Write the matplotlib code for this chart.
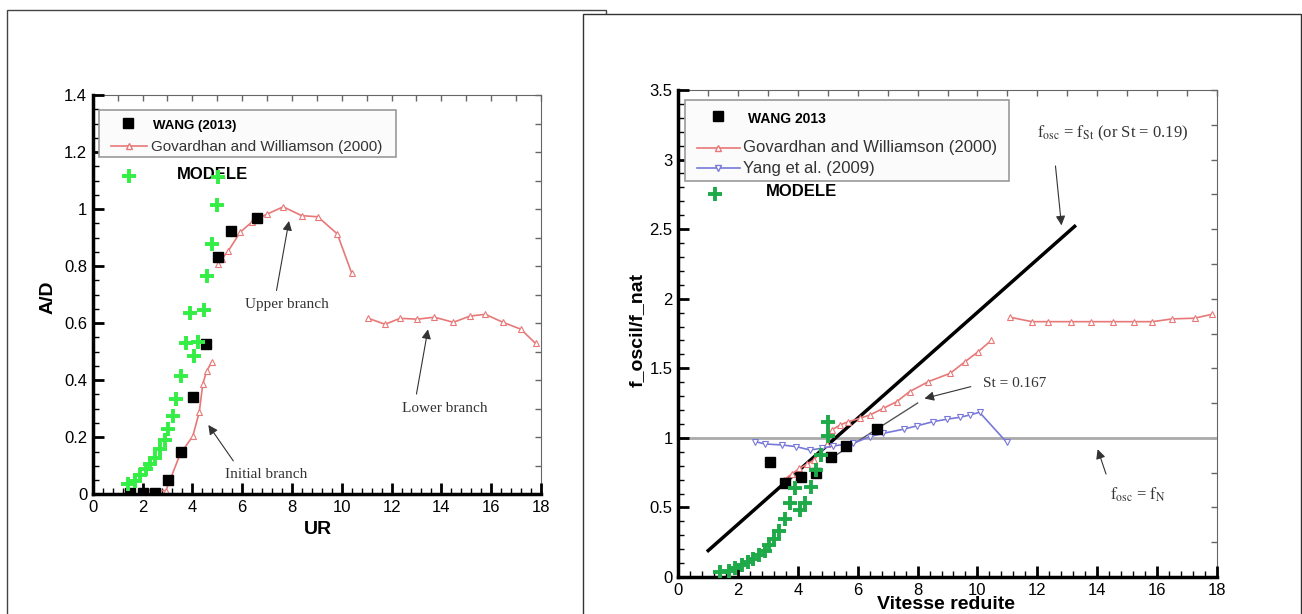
import matplotlib
matplotlib.use('Agg')
import matplotlib.pyplot as plt
from matplotlib.patches import Rectangle
from matplotlib.ticker import MultipleLocator, FuncFormatter, NullFormatter

plt.rcParams['font.family'] = ['Liberation Sans', 'DejaVu Sans']
plt.rcParams['mathtext.fontset'] = 'stix'

# ---- left panel : amplitude A/D vs UR ----
wang_ur = [1.5, 2.03, 2.5, 3.04, 3.55, 4.04, 4.54, 5.04, 5.55, 6.59]
wang_ad = [0.005, 0.005, 0.005, 0.050, 0.149, 0.342, 0.526, 0.833, 0.924, 0.968]

gw_init_ur = [2.30, 2.94, 3.51, 4.02, 4.28, 4.42, 4.58, 4.78]
gw_init_ad = [0.013, 0.013, 0.141, 0.204, 0.289, 0.387, 0.433, 0.464]
gw_upper_ur = [5.04, 5.18, 5.45, 5.92, 6.41, 6.99, 7.65, 8.39, 9.04, 9.82, 10.40]
gw_upper_ad = [0.806, 0.825, 0.854, 0.919, 0.956, 0.982, 1.008, 0.977, 0.973, 0.913, 0.775]
gw_lower_ur = [11.07, 11.74, 12.34, 13.04, 13.72, 14.48, 15.15, 15.77, 16.47, 17.19, 17.78]
gw_lower_ad = [0.617, 0.596, 0.617, 0.614, 0.621, 0.603, 0.625, 0.631, 0.603, 0.579, 0.529]

# MODELE (same values appear in both panels)
model_ur = [1.40, 1.68, 1.91, 2.12, 2.32, 2.51, 2.70, 2.89, 3.04, 3.21, 3.35,
            3.56, 3.73, 3.90, 4.08, 4.24, 4.45, 4.60, 4.78, 5.00, 5.02]
model_val = [0.035, 0.046, 0.067, 0.088, 0.106, 0.127, 0.160, 0.189, 0.230, 0.276, 0.334,
             0.414, 0.530, 0.637, 0.484, 0.535, 0.645, 0.767, 0.876, 1.015, 1.113]

# ---- right panel : frequency ratio vs reduced velocity ----
wang_u = [3.07, 3.57, 4.09, 4.60, 5.11, 5.61, 6.64]
wang_f = [0.829, 0.674, 0.717, 0.745, 0.865, 0.942, 1.062]

gw_a_u = [3.54, 3.79, 4.05, 4.29, 4.52, 4.74, 4.96, 5.13, 5.41, 5.69, 6.08, 6.41,
          6.86, 7.30, 7.73, 8.36, 9.09, 9.59, 10.03, 10.46]
gw_a_f = [0.70, 0.74, 0.78, 0.81, 0.84, 0.89, 0.956, 1.057, 1.093, 1.117, 1.141, 1.165,
          1.213, 1.26, 1.332, 1.404, 1.464, 1.548, 1.62, 1.70]
gw_b_u = [11.09, 11.82, 12.37, 13.13, 13.80, 14.53, 15.22, 15.85, 16.52, 17.26, 17.84]
gw_b_f = [1.867, 1.835, 1.835, 1.835, 1.835, 1.835, 1.835, 1.835, 1.855, 1.86, 1.888]

yang_u = [2.57, 2.90, 3.46, 3.94, 4.40, 4.80, 5.18, 5.85, 6.41, 6.86, 7.53, 7.97,
          8.53, 8.98, 9.42, 9.76, 10.07, 10.98]
yang_f = [0.973, 0.956, 0.949, 0.937, 0.913, 0.925, 0.942, 0.961, 1.009, 1.033, 1.062, 1.086,
          1.117, 1.134, 1.148, 1.165, 1.184, 0.968]

st019_u = [1.0, 13.25]
st019_f = [0.19, 2.52]
st0167_u = [5.3, 8.0]
st0167_f = [0.88, 1.25]

RED = '#e87878'
BLUE = '#7878d8'
GREEN_L = '#33ee44'
GREEN_R = '#1eaa48'

fig = plt.figure(figsize=(13.02, 6.14), dpi=100)

# the two pasted panel frames
fig.add_artist(Rectangle((7 / 1302, -0.05), 599 / 1302, 1.0337, transform=fig.transFigure,
                         fc='white', ec='#444', lw=1, zorder=-3))
fig.add_artist(Rectangle((583 / 1302, -0.05), 718 / 1302, 1.0272, transform=fig.transFigure,
                         fc='white', ec='#333', lw=1, zorder=-2))

fmt = FuncFormatter(lambda v, p: f'{v:g}')


def style(ax, xminor, yminor, top_step, right_step):
    for s in ['top', 'right']:
        ax.spines[s].set_visible(False)
    for s in ['left', 'bottom']:
        ax.spines[s].set_linewidth(2.5)
    ax.xaxis.set_minor_locator(MultipleLocator(xminor))
    ax.yaxis.set_minor_locator(MultipleLocator(yminor))
    ax.xaxis.set_major_formatter(fmt)
    ax.yaxis.set_major_formatter(fmt)
    ax.tick_params(which='both', direction='in', top=False, right=False)
    ax.tick_params(which='major', length=8, width=2, labelsize=12, pad=4)
    ax.tick_params(which='minor', length=4, width=1)
    sx = ax.secondary_xaxis('top')
    sx.xaxis.set_major_locator(MultipleLocator(top_step))
    sx.xaxis.set_major_formatter(NullFormatter())
    sx.tick_params(direction='in', length=4, width=1, color='#666')
    sx.spines['top'].set_color('#666')
    sy = ax.secondary_yaxis('right')
    sy.yaxis.set_major_locator(MultipleLocator(right_step))
    sy.yaxis.set_major_formatter(NullFormatter())
    sy.tick_params(direction='in', length=4, width=1, color='#666')
    sy.spines['right'].set_color('#666')


def arrow(ax, tail, tip):
    ax.annotate('', xy=tip, xytext=tail,
                arrowprops=dict(arrowstyle='-|>', color='#333', lw=0.8, mutation_scale=14))


serif = dict(family='Liberation Serif', color='#333', ha='center', va='center')

# ================= left panel =================
ax1 = fig.add_axes([0.07120, 0.19495, 0.34432, 0.65033])
ax1.set_xlim(0, 18)
ax1.set_ylim(0, 1.4)
ax1.xaxis.set_major_locator(MultipleLocator(2))
ax1.yaxis.set_major_locator(MultipleLocator(0.2))
style(ax1, 0.4, 0.05, 1, 0.1)

tri = dict(marker='^', mfc='white', mec=RED, ms=5, mew=0.8, color=RED, lw=1.2)
ax1.plot(gw_init_ur, gw_init_ad, **tri)
ax1.plot(gw_upper_ur, gw_upper_ad, **tri)
ax1.plot(gw_lower_ur, gw_lower_ad, **tri)
ax1.plot(wang_ur, wang_ad, 's', color='black', ms=7, zorder=3)
ax1.plot(model_ur, model_val, '+', color=GREEN_L, ms=10, mew=2.8, zorder=4)

ax1.set_xlabel('UR', fontsize=14, fontweight='bold', va='center')
ax1.set_ylabel('A/D', fontsize=14, fontweight='bold', va='center')
ax1.xaxis.set_label_coords(0.5026, -0.0869)
ax1.yaxis.set_label_coords(-0.0997, 0.494)

ax1.text(7.79, 0.664, 'Upper branch', fontsize=11, **serif)
arrow(ax1, (7.36, 0.705), (7.90, 0.968))
ax1.text(6.96, 0.068, 'Initial branch', fontsize=11, **serif)
arrow(ax1, (5.71, 0.109), (4.58, 0.251))
ax1.text(14.15, 0.302, 'Lower branch', fontsize=11, **serif)
arrow(ax1, (12.98, 0.342), (13.48, 0.588))

# legend
T1 = ax1.transAxes
ax1.add_patch(Rectangle((0.0147, 0.8455), 0.6613, 0.1169, transform=T1,
                        fc='#fbfbfb', ec='#999', lw=1.2, zorder=5))
ax1.plot([0.0794], [0.929], 's', color='black', ms=7, transform=T1, zorder=6)
ax1.text(0.135, 0.9216, 'WANG (2013)', transform=T1, fontsize=9.5, fontweight='bold',
         va='center', zorder=6)
ax1.plot([0.041, 0.1205], [0.873, 0.873], color=RED, lw=1.2, transform=T1, zorder=6)
ax1.plot([0.081], [0.873], '^', mfc='white', mec=RED, ms=5, transform=T1, zorder=6)
ax1.text(0.129, 0.8705, 'Govardhan and Williamson (2000)', transform=T1, fontsize=11,
         color='#333', va='center', zorder=6)
ax1.plot([0.081], [0.798], '+', color=GREEN_L, ms=10, mew=2.8, transform=T1, zorder=6)
ax1.text(0.187, 0.801, 'MODELE', transform=T1, fontsize=12, fontweight='bold', va='center')

# ================= right panel =================
ax2 = fig.add_axes([0.52097, 0.06026, 0.41352, 0.79316])
ax2.set_xlim(0, 18)
ax2.set_ylim(0, 3.5)
ax2.xaxis.set_major_locator(MultipleLocator(2))
ax2.yaxis.set_major_locator(MultipleLocator(0.5))
style(ax2, 0.4, 0.1, 1, 0.25)

ax2.axhline(1.0, color='#aaaaaa', lw=2, zorder=1)
ax2.plot(st019_u, st019_f, color='black', lw=2.5, zorder=2)
ax2.plot(st0167_u, st0167_f, color='#555', lw=1, zorder=2)
ax2.plot(gw_a_u, gw_a_f, **tri)
ax2.plot(gw_b_u, gw_b_f, **tri)
ax2.plot(yang_u, yang_f, marker='v', mfc='white', mec=BLUE, ms=5, mew=0.8, color=BLUE, lw=1.2)
ax2.plot(wang_u, wang_f, 's', color='black', ms=7, zorder=3)
ax2.plot(model_ur, model_val, '+', color=GREEN_R, ms=10, mew=2.8, zorder=4)

ax2.set_xlabel('Vitesse reduite', fontsize=14, fontweight='bold', va='bottom')
ax2.set_ylabel('f_oscil/f_nat', fontsize=14, fontweight='bold', va='center')
ax2.xaxis.set_label_coords(0.497, -0.0735)
ax2.yaxis.set_label_coords(-0.0767, 0.507)

ax2.text(14.51, 3.19, r'$\mathrm{f_{osc}}$ = $\mathrm{f_{St}}$ (or St = 0.19)', fontsize=12, **serif)
arrow(ax2, (12.6, 2.974), (12.82, 2.507))
ax2.text(11.23, 1.393, 'St = 0.167', fontsize=11, **serif)
arrow(ax2, (9.87, 1.373), (8.14, 1.278))
ax2.text(15.37, 0.59, r'$\mathrm{f_{osc}}$ = $\mathrm{f_N}$', fontsize=12, **serif)
arrow(ax2, (14.33, 0.721), (13.99, 0.937))

# legend
T2 = ax2.transAxes
ax2.add_patch(Rectangle((0.0124, 0.8138), 0.6024, 0.1657, transform=T2,
                        fc='#fbfbfb', ec='#999', lw=1.2, zorder=5))
ax2.plot([0.0743], [0.9472], 's', color='black', ms=7, transform=T2, zorder=6)
ax2.text(0.130, 0.9398, 'WANG 2013', transform=T2, fontsize=10, fontweight='bold',
         va='center', zorder=6)
ax2.plot([0.0342, 0.1146], [0.8815, 0.8815], color=RED, lw=1.2, transform=T2, zorder=6)
ax2.plot([0.0744], [0.8815], '^', mfc='white', mec=RED, ms=5, transform=T2, zorder=6)
ax2.text(0.1207, 0.8815, 'Govardhan and Williamson (2000)', transform=T2, fontsize=12,
         color='#333', va='center', zorder=6)
ax2.plot([0.0342, 0.1146], [0.8392, 0.8392], color=BLUE, lw=1.2, transform=T2, zorder=6)
ax2.plot([0.0744], [0.8392], 'v', mfc='white', mec=BLUE, ms=5, transform=T2, zorder=6)
ax2.text(0.1207, 0.8392, 'Yang et al. (2009)', transform=T2, fontsize=12,
         color='#333', va='center', zorder=6)
ax2.plot([0.0682], [0.7858], '+', color=GREEN_R, ms=10, mew=2.8, transform=T2, zorder=6)
ax2.text(0.1629, 0.7926, 'MODELE', transform=T2, fontsize=12, fontweight='bold', va='center')

fig.savefig('out.png', dpi=100)
